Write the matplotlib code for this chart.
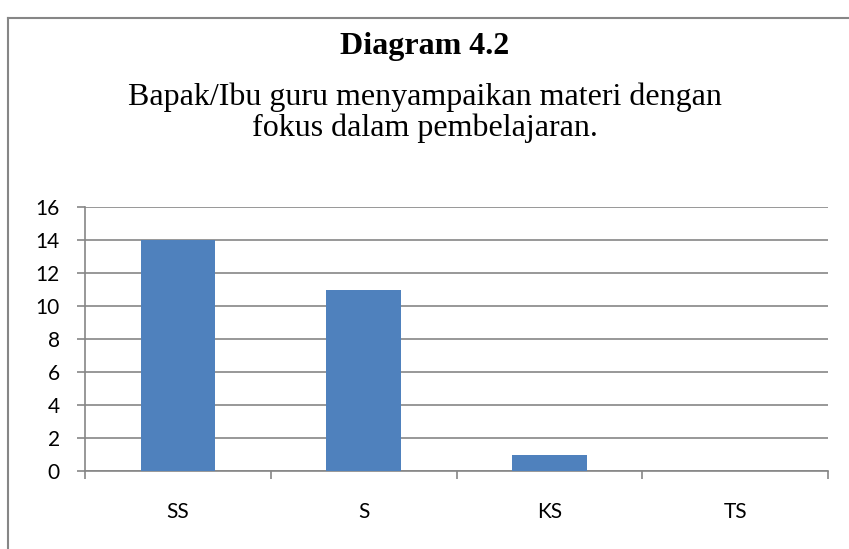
import matplotlib.pyplot as plt
from matplotlib.lines import Line2D
import numpy as np

categories = ["SS", "S", "KS", "TS"]
values = [14, 11, 1, 0]
y_ticks = [0, 2, 4, 6, 8, 10, 12, 14, 16]

title = "Diagram 4.2"
subtitle = "Bapak/Ibu guru menyampaikan materi dengan\nfokus dalam pembelajaran."

grey = "#868686"
bar_color = "#4F81BD"

fig = plt.figure(figsize=(8.49, 5.49), dpi=100)
ax = fig.add_axes([85 / 849, 1 - 471 / 549, (828 - 85) / 849, (471 - 207) / 549])

x = np.arange(len(categories))
ax.bar(x, values, width=0.4, color=bar_color, zorder=3)

ax.set_xlim(-0.5, len(categories) - 0.5)
ax.set_ylim(0, 16)
ax.set_yticks(y_ticks)
ax.yaxis.grid(True, color=grey, linewidth=1.2, zorder=0)
ax.set_axisbelow(True)

# category labels centred, tick marks on the boundaries
ax.set_xticks(x)
ax.set_xticklabels(categories, fontsize=15, family="Lato")
ax.tick_params(axis="x", which="major", length=0, pad=22)
ax.set_xticks(np.arange(-0.5, len(categories)), minor=True)
ax.tick_params(axis="x", which="minor", length=6, width=1.2, color=grey)
ax.tick_params(axis="y", length=6, width=1.2, color=grey, pad=12)
for lbl in ax.get_yticklabels():
    lbl.set_fontsize(15)
    lbl.set_family("Lato")

for side in ["top", "right"]:
    ax.spines[side].set_visible(False)
for side in ["left", "bottom"]:
    ax.spines[side].set_color(grey)
    ax.spines[side].set_linewidth(1.2)

fig.text(0.5, 1 - 47 / 549, title, ha="center", va="center",
         fontsize=23, fontweight="bold", family="Liberation Serif")
fig.text(0.5, 1 - 113 / 549, subtitle, ha="center", va="center",
         fontsize=23, family="Liberation Serif", linespacing=1.05)

# chart-area border (only top and left edges fall inside the image)
fig.add_artist(Line2D([8 / 849, 8 / 849], [0, 1 - 18 / 549], transform=fig.transFigure,
                      color=grey, linewidth=1.5))
fig.add_artist(Line2D([8 / 849, 1], [1 - 18 / 549, 1 - 18 / 549], transform=fig.transFigure,
                      color=grey, linewidth=1.5))

fig.savefig("out.png", dpi=100)
